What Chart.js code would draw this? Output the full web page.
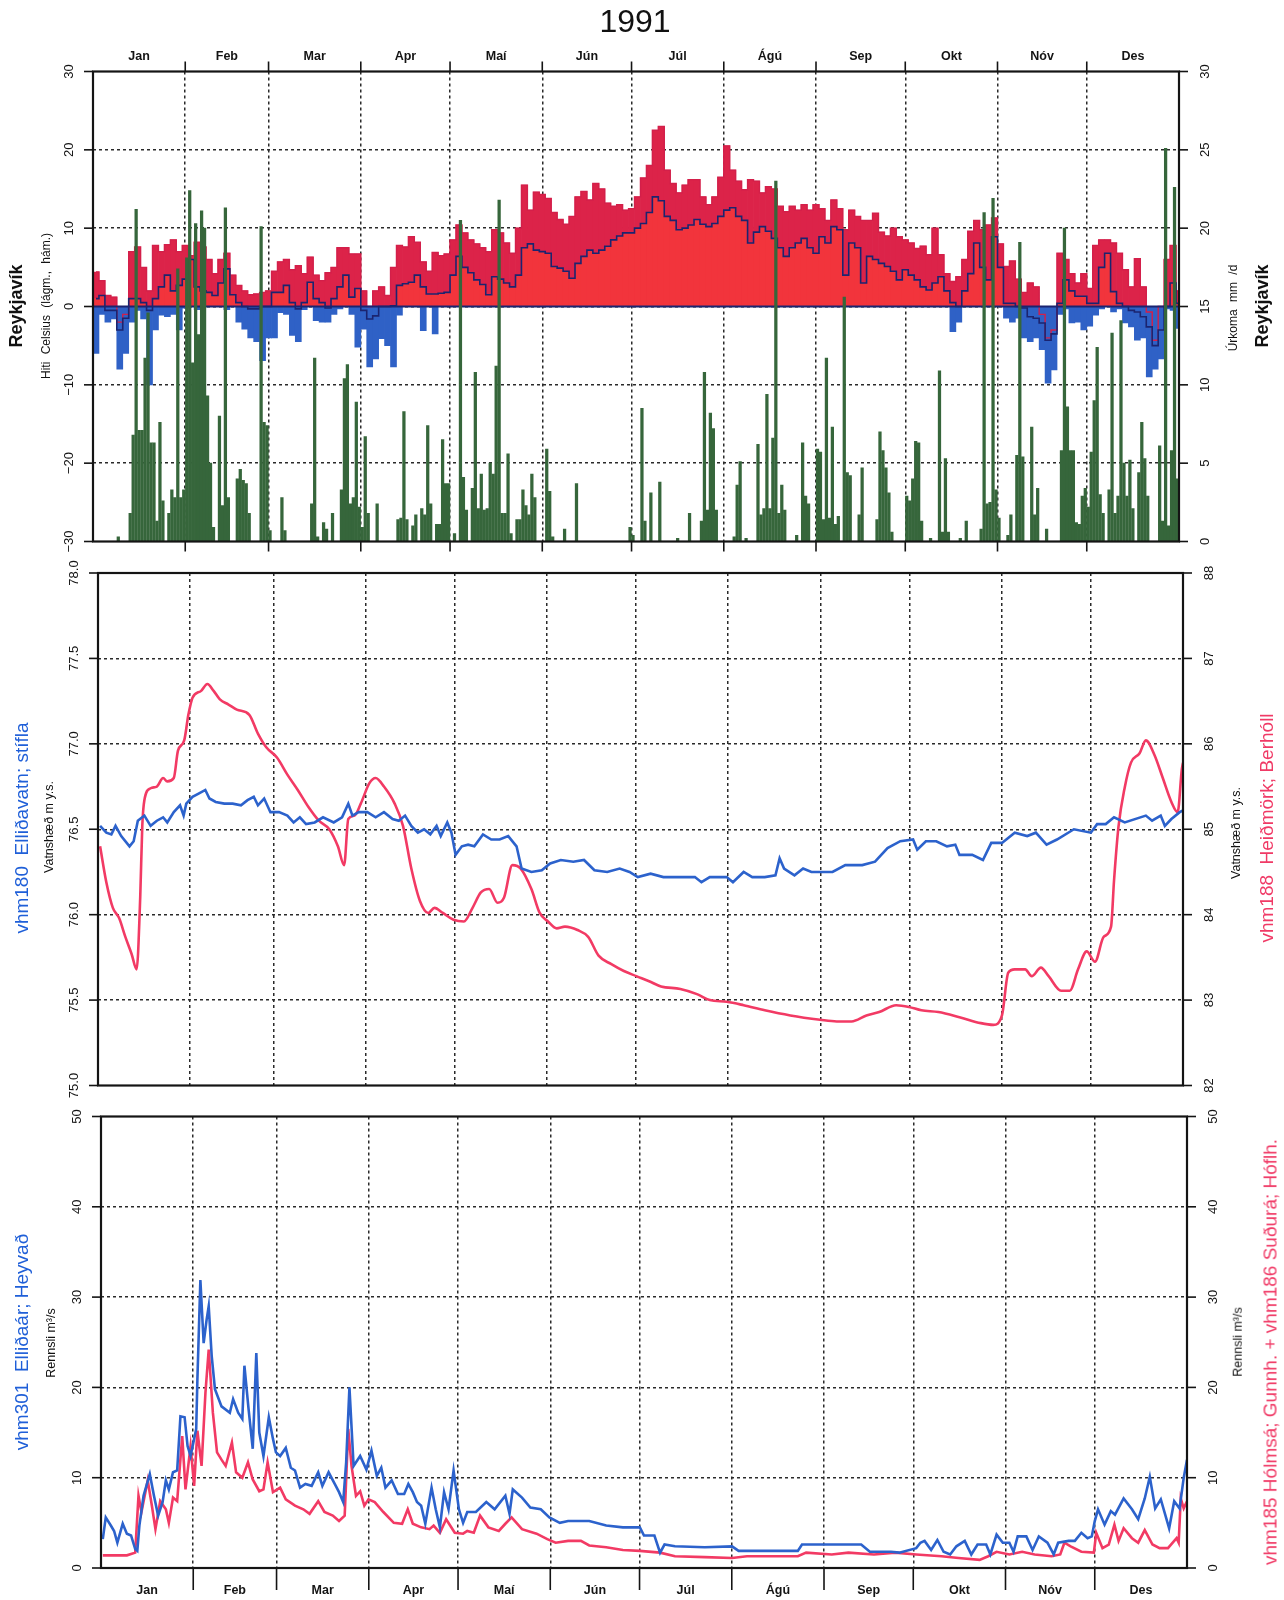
<!DOCTYPE html>
<html>
<head>
<meta charset="utf-8">
<title>1991 – Reykjavík</title>
<script src="https://cdn.jsdelivr.net/npm/chart.js@4.4.1/dist/chart.umd.min.js"></script>
<style>
  html, body { margin: 0; padding: 0; background: #fff; }
  #page { position: relative; width: 1284px; height: 1600px; overflow: hidden;
          font-family: "Liberation Sans", Arial, Helvetica, sans-serif; color: #111; }
  #page canvas { position: absolute; left: 0; top: 0; }
  .t { position: absolute; white-space: nowrap; transform: translate(-50%, -50%); line-height: 1; }
  .v { transform: translate(-50%, -50%) rotate(-90deg); }
</style>
</head>
<body>
<div id="page">
  <canvas id="cTemp" width="1284" height="1600"></canvas>
  <canvas id="cLevel" width="1284" height="1600"></canvas>
  <canvas id="cFlow" width="1284" height="1600"></canvas>

  <div class="t" style="left:635px;top:21px;font-size:32px;">1991</div>

  <div class="t v" style="left:16px;top:306px;font-size:18px;font-weight:bold;">Reykjavík</div>
  <div class="t v" style="left:46px;top:306px;font-size:12px;word-spacing:4px;">Hiti Celsius (lágm., hám.)</div>
  <div class="t v" style="left:1233px;top:308px;font-size:12px;word-spacing:4px;">Úrkoma mm /d</div>
  <div class="t v" style="left:1262px;top:306px;font-size:18px;font-weight:bold;">Reykjavík</div>

  <div class="t v" style="left:21px;top:828px;font-size:19px;color:#1f5fd8;">vhm180&nbsp; Elliðavatn; stífla</div>
  <div class="t v" style="left:49px;top:827px;font-size:12.5px;">Vatnshæð m y.s.</div>
  <div class="t v" style="left:1236px;top:833px;font-size:12.5px;">Vatnshæð m y.s.</div>
  <div class="t v" style="left:1266px;top:828px;font-size:19px;color:#f03a66;">vhm188&nbsp; Heiðmörk; Berhóll</div>

  <div class="t v" style="left:21px;top:1342px;font-size:19px;color:#1f5fd8;">vhm301&nbsp; Elliðaár; Heyvað</div>
  <div class="t v" style="left:51px;top:1343px;font-size:12.5px;">Rennsli m³/s</div>
  <div class="t v" style="left:1238px;top:1342px;font-size:12.5px;">Rennsli m³/s</div>
  <div class="t v" style="left:1270px;top:1352px;font-size:19px;color:#f03a66;">vhm185 Hólmsá; Gunnh. + vhm186 Suðurá; Hóflh.</div>
</div>

<script>
// ---- calendar ----
const monthNames = ['Jan', 'Feb', 'Mar', 'Apr', 'Maí', 'Jún', 'Júl', 'Ágú', 'Sep', 'Okt', 'Nóv', 'Des'];
const monthStarts = [0, 31, 59, 90, 120, 151, 181, 212, 243, 273, 304, 334, 365];

// ---- tick values ----
const tempTicks = [-30, -20, -10, 0, 10, 20, 30];
const precipTicks = [0, 5, 10, 15, 20, 25, 30];
const levelTicksLeft = [75, 75.5, 76, 76.5, 77, 77.5, 78];
const levelTicksRight = [82, 83, 84, 85, 86, 87, 88];
const flowTicks = [0, 10, 20, 30, 40, 50];

// ---- Reykjavík temperature, two-day bins from 1 Jan (°C) ----
const tempMax = [
  4.4, 3.3, 1.4, 1.2, -2, -1, 7, 7.6, 5, 2,
  7.8, 7, 7.9, 8.5, 7, 7.8, 6.5, 8.2, 7.6, 6,
  4.2, 6, 6.8, 4, 2.7, 2, 1.5, 1.6, 1.8, 2,
  4.5, 5.7, 6, 4.7, 5.2, 4.2, 6.3, 4, 3.3, 4.3,
  5, 7.5, 7.5, 6.7, 6.7, 2, 0, 2, 2.5, 1.4,
  5, 7.8, 7.6, 8.9, 8.2, 5.7, 4.5, 6.9, 6.5, 6.7,
  8.5, 10.4, 9.4, 8.5, 8, 7.5, 7, 9.8, 9.4, 8.1,
  6.8, 10, 15.5, 12.3, 14.6, 14.3, 13.8, 12, 11.1, 10.5,
  11.5, 14, 14.7, 13.6, 15.7, 15, 13.2, 12.8, 13, 12.3,
  12.5, 14, 16.4, 18, 22.5, 23, 17.4, 15.7, 14.5, 15.5,
  16.2, 16.2, 14, 13, 14, 16.5, 20.5, 17.4, 16, 14.9,
  16.2, 16, 14.5, 15.3, 15, 12.8, 12.1, 12.8, 12.3, 13,
  12.3, 13, 12.5, 11, 13.6, 12.5, 9.8, 12.3, 11.5, 11,
  11, 11.9, 9.5, 9, 10, 8.9, 8.5, 8.1, 7.4, 7.7,
  6.6, 10, 6.6, 4.2, 3.2, 3.8, 6, 9.6, 11, 9.8,
  10.4, 11.3, 8, 5.1, 5.8, 3.5, 1.8, 3, 2.5, -1,
  -4, -3, 6.8, 6, 4.2, 3, 4.2, 2.3, 7.8, 8.5,
  8.5, 8.1, 6.8, 4.7, 2.5, 6.1, 2.5, -0.7, -4.3, 0,
  6, 7.8, 2
];
const tempMin = [
  -6, -1, -2, -1.6, -8, -6, -2, -0.5, -1.6, -10,
  -3, -1.1, -1.3, -1, -3, -0.2, 0.3, -0.4, 0.5, 0.5,
  0.5, 0.5, -0.4, 0.3, -2, -2.9, -4, -4.5, -6.9, -4,
  -4, -0.8, -1, -3.7, -4.5, -0.4, 0.2, -1.8, -2, -2,
  -1, -0.3, 0.3, -1, -5.2, -2.9, -7.7, -6.7, -4.1, -5,
  -7.7, -1.1, 0.3, 0.5, 0.3, -3.1, 0.2, -3.5, 0.3, 0.5,
  1, 2.9, 1.5, 0.8, 0.5, 0.3, 0.3, 0.5, 0.4, 0.3,
  0.3, 0.8, 4, 4.5, 3.8, 3.5, 3.2, 1.6, 1.4, 1,
  0.5, 2, 3, 3.7, 3.3, 3.7, 4.2, 5, 5.5, 6,
  6, 6.5, 7, 8.5, 9, 9.5, 8, 7.5, 6.3, 6.5,
  7, 7.5, 7, 6.7, 7, 8, 8.5, 9, 8, 7.5,
  4.6, 6, 6.7, 6, 5.2, 4, 3, 4, 4.6, 5.2,
  4, 3.3, 5.4, 4.6, 6.7, 6.3, 1, 4.6, 4, 0.5,
  3, 2.5, 2, 1.6, 1, 0.5, 1.2, 0.8, 0.4, 0.3,
  0.3, 0.3, 0.5, 0.3, -3.2, -2, 0.5, 1, 4.5, 1.5,
  0.5, 5, 1, -1.5, -2, -1.5, -4, -4.5, -4, -5.5,
  -9.8, -8.1, -1, -0.3, -2.1, -2, -3, -2.5, -1.1, -0.3,
  0.3, -0.7, -0.3, -2.1, -2.6, -4.3, -4, -9, -8, -6.7,
  -0.3, -0.5, -2.8
];
const tempMean = [
  1, 1.4, -0.5, -0.5, -3, -1.5, 1, 1, 0.5, -0.5,
  1, 2.5, 4, 2, 2.7, 3.5, 6, 2.5, 2, 1.8,
  1.4, 3, 4.8, 1.5, 0.5, 0, -0.3, -0.3, 0, 0,
  1.8, 1.8, 2.7, 0.5, -0.3, 0.5, 3.1, 1, 0.5, -0.2,
  1, 2.5, 4, 1.2, 2.3, -0.5, -1.6, -1.2, 0, 0,
  0.1, 2.7, 2.9, 3.1, 4, 2.5, 1.6, 1.6, 1.7, 1.8,
  4, 6.4, 5, 4.3, 3.4, 2.8, 1.5, 3.8, 3.5, 3,
  2.5, 4, 7.5, 8, 7.2, 7, 6.8, 5.1, 4.9, 4.5,
  3.6, 5.5, 6.4, 7.2, 6.8, 7.2, 7.7, 8.5, 9, 9.4,
  9.4, 10, 10.6, 12, 14, 13.5, 11.5, 11, 9.8, 10,
  10.4, 11.1, 10.5, 10.2, 10.6, 11.5, 12.3, 12.6, 11.5, 11,
  8.1, 9.5, 10.2, 9.6, 8.7, 7.5, 6.4, 7.5, 8.1, 8.7,
  7.5, 6.8, 8.9, 8.1, 10.2, 9.8, 4, 8.1, 7.5, 3,
  6.4, 6, 5.5, 5.1, 4.5, 3.4, 4.7, 4, 3.4, 2.5,
  2.1, 3, 3.8, 2, 0.5, 0, 2, 4.2, 8.1, 5,
  3.4, 8.9, 5, 0.4, 0.4, 0, -0.2, -1.3, -1.5, -2.1,
  -4.3, -3.5, 0.4, 3.4, 2, 1.3, 1.3, 0.4, 0.4, 5,
  6.8, 1.9, 0.4, 0, -0.5, -0.7, -1.3, -2.6, -5, -3,
  0, 3, 0.4
];

// ---- Reykjavík daily precipitation: [day of year, mm] ----
const precip = [
  [8,0.3],[12,1.8],[13,6.8],[14,21.2],[15,7.1],[16,7.1],[17,11.7],[18,14.6],[19,6.3],[20,6.3],
  [21,1.3],[22,7.6],[23,2.6],[25,1.8],[26,3.3],[27,2.8],[28,17.4],[29,2.8],[30,3.3],[31,18.1],
  [32,22.4],[33,11.4],[34,20.3],[35,13.2],[36,21.1],[37,20],[38,9.3],[39,5],[40,0.9],[42,8],
  [43,2.3],[44,21.3],[45,2.8],[48,4],[49,4.6],[50,3.9],[51,3.7],[52,1.8],[56,20.1],[57,7.6],
  [58,7.4],[59,0.7],[63,2.8],[64,0.7],[73,2.4],[74,11.7],[75,0.3],[77,1.2],[78,0.8],[80,1.8],
  [83,3.3],[84,10.4],[85,11.3],[86,2.4],[87,2.8],[88,8.9],[89,2.2],[90,0.9],[91,6.7],[92,1.8],
  [95,2.4],[102,1.4],[103,1.5],[104,8.3],[105,1.4],[107,1],[108,1.7],[110,2.1],[111,1.7],[112,7.4],
  [113,2.4],[115,1.1],[116,1.1],[117,6.5],[118,3.7],[119,3.7],[121,0.5],[123,20.5],[124,4.1],[125,2],
  [127,3.4],[128,10.8],[129,2.1],[130,4.3],[131,2],[132,2.1],[133,5],[134,4.3],[135,11.2],[136,21.8],
  [137,1.8],[138,1.8],[139,5.6],[140,0.5],[142,1.4],[143,1.4],[144,3.3],[145,2.3],[146,1.7],[147,4.3],
  [148,2.8],[152,5.9],[153,3.2],[154,0.3],[158,0.8],[162,3.7],[180,0.9],[181,0.4],[184,8.5],[185,1.3],
  [187,3.1],[190,3.8],[196,0.2],[200,1.8],[204,1.3],[205,10.8],[206,2],[207,8.2],[208,7.2],[209,2],
  [215,0.3],[216,3.6],[217,5.1],[219,0.2],[223,6.2],[224,1.7],[225,2.1],[226,9.4],[227,2.1],[228,6.6],
  [229,23],[230,1.8],[231,3.6],[232,2],[236,0.4],[238,6.3],[239,2.9],[240,2.4],[243,5.9],[244,5.7],
  [245,1.4],[246,11.7],[247,1.5],[248,7.3],[249,1.1],[250,1.6],[252,15.6],[253,4.4],[254,4.2],[257,1.7],
  [258,4.7],[263,1.4],[264,7],[265,5.8],[266,4.7],[267,3.1],[268,0.6],[273,2.9],[274,2.6],[275,4],
  [276,6.4],[277,6.3],[278,1.3],[281,0.2],[284,10.9],[285,0.6],[286,5.3],[287,0.6],[291,0.2],[293,1.3],
  [298,0.8],[299,21],[300,2.4],[301,2.5],[302,21.9],[303,3.3],[304,1.5],[307,0.4],[308,1.7],[310,5.5],
  [311,19.1],[312,5.4],[315,7.3],[316,1.7],[317,3.4],[320,0.8],[325,5.8],[326,20],[327,8.6],[328,5.8],
  [329,5.8],[330,1.2],[331,1.1],[332,2.9],[333,3.4],[334,2.2],[335,5.7],[336,9],[337,12.4],[338,3],
  [339,1.8],[341,3.3],[342,13.3],[343,1.8],[344,2.9],[345,14.1],[346,5],[347,2.9],[348,5.2],[349,2.1],
  [351,4.4],[352,7.6],[353,5.3],[354,2.9],[358,6.1],[359,1.3],[360,25.1],[361,1],[362,5.8],[363,22.6],
  [364,4]
];

// ---- vhm180 Elliðavatn water level, m a.s.l.: [day, level] ----
const level180 = [
  [0.7,76.52],[2.8,76.48],[4.5,76.47],[5.9,76.52],[7.8,76.46],[10.6,76.40],[12,76.43],[13.4,76.55],
  [15.6,76.58],[17.7,76.52],[19.8,76.55],[21.9,76.57],[23.3,76.54],[25.5,76.60],[27.6,76.64],[28.8,76.58],
  [29.7,76.65],[31.8,76.69],[34,76.71],[36.1,76.73],[37.5,76.68],[39.6,76.66],[42.5,76.65],[45.3,76.65],
  [48.1,76.64],[50.3,76.67],[52.4,76.69],[53.8,76.64],[55.9,76.68],[58,76.60],[60.9,76.60],[63.7,76.58],
  [65.8,76.54],[67.9,76.57],[70,76.53],[72.9,76.54],[75.7,76.57],[79.3,76.54],[82.1,76.57],[84.2,76.65],
  [85.6,76.58],[87.7,76.60],[90.6,76.60],[93.4,76.57],[96.2,76.60],[99.1,76.56],[101.2,76.55],[103.3,76.58],
  [105.4,76.52],[107.6,76.48],[109.7,76.50],[111.8,76.47],[113.9,76.52],[115.3,76.46],[117.5,76.54],[118.9,76.48],
  [120.3,76.35],[122.4,76.40],[124.5,76.41],[126.6,76.40],[129.5,76.47],[132.3,76.44],[135.1,76.44],[138,76.46],
  [140.8,76.40],[142.5,76.27],[145.8,76.25],[149.3,76.26],[152.1,76.30],[155.7,76.32],[159.9,76.31],[163.5,76.32],
  [167,76.26],[171.3,76.25],[175.5,76.27],[178.8,76.25],[181.6,76.22],[185.9,76.24],[190.2,76.22],[195.9,76.22],
  [200.8,76.22],[203,76.19],[205.8,76.22],[211.5,76.22],[213.6,76.19],[217.2,76.25],[220.1,76.22],[224.3,76.22],
  [227.9,76.23],[229.3,76.33],[230.8,76.27],[234.3,76.23],[237.2,76.27],[240,76.25],[242.9,76.25],[247.1,76.25],
  [251.4,76.29],[257.1,76.29],[261.4,76.31],[265.6,76.39],[269.9,76.43],[274.2,76.44],[275.6,76.38],[278.5,76.43],
  [282,76.43],[285.6,76.40],[288.4,76.41],[289.8,76.35],[294.1,76.35],[297.7,76.32],[300.5,76.42],[304.1,76.42],
  [308.4,76.48],[312.6,76.46],[315.5,76.48],[319.1,76.41],[322.6,76.44],[328.3,76.50],[334,76.48],[336.1,76.53],
  [339,76.53],[341.8,76.57],[345.4,76.54],[352.5,76.58],[354.6,76.55],[357.5,76.58],[358.9,76.52],[361.1,76.56],
  [363.9,76.60],[365,76.61]
];

// ---- vhm188 Heiðmörk, Berhóll groundwater level, m a.s.l.: [day, level] ----
const level188 = [
  [0.7,84.80],[2.8,84.38],[5,84.08],[7.1,83.96],[9.2,83.74],[11.3,83.54],[13,83.36],[14.2,84.2],
  [14.9,85.04],[15.6,85.34],[17.7,85.48],[19.8,85.5],[21.9,85.6],[23.3,85.56],[25.5,85.6],[26.9,85.92],
  [29,86.04],[30.4,86.34],[31.8,86.54],[34.7,86.62],[36.8,86.7],[38.9,86.62],[41,86.52],[43.9,86.46],
  [46.7,86.4],[50.9,86.34],[53.8,86.12],[56.6,85.96],[60.2,85.84],[63.7,85.64],[67.2,85.46],[70.8,85.26],
  [74.3,85.1],[77.8,85.0],[80.7,84.8],[82.8,84.58],[84.2,85.12],[86.3,85.16],[88.4,85.3],[91.3,85.54],
  [93.4,85.6],[96.2,85.5],[99.8,85.3],[102.6,85.04],[105.4,84.54],[108.3,84.16],[111.1,84.02],[113.2,84.08],
  [116,84.02],[119.6,83.94],[123.1,83.92],[126,84.08],[128.8,84.26],[131.6,84.3],[134.4,84.14],[136.6,84.2],
  [139.4,84.58],[142.2,84.54],[145.8,84.3],[148.6,84.02],[151.4,83.92],[154.3,83.84],[157.1,83.86],[161.3,83.82],
  [164.9,83.74],[168.4,83.52],[172.7,83.42],[176.9,83.34],[181.1,83.28],[185.4,83.22],[189.4,83.16],[195.9,83.13],
  [201.5,83.07],[205.8,83.0],[211.5,82.98],[217.2,82.94],[224.3,82.88],[232.9,82.82],[242.9,82.77],[248.5,82.75],
  [253.5,82.75],[258.5,82.82],[262.8,82.86],[268.5,82.94],[272.8,82.92],[277,82.88],[282.7,82.86],[289.8,82.8],
  [297,82.73],[301.2,82.71],[304.1,82.82],[306.2,83.32],[308.4,83.36],[311.9,83.36],[314.1,83.28],[317.2,83.38],
  [319.8,83.28],[324,83.11],[326.9,83.11],[329.7,83.36],[332.6,83.57],[335.4,83.45],[338.3,83.74],[340.8,83.86],
  [341.8,84.4],[343.3,85.03],[345.4,85.49],[347.5,85.78],[350.4,85.89],[352.5,86.04],[355.4,85.87],[358.2,85.6],
  [361.1,85.32],[363.2,85.2],[364.6,85.7],[365,85.78]
];

// ---- vhm301 Elliðaár, Heyvað discharge, m³/s: [day, flow] ----
const flow301 = [
  [0.6,3.2],[1.6,5.6],[3.3,4.7],[4.4,4.1],[5.5,2.8],[7.3,4.9],[8.7,3.8],[10.1,3.6],[11.5,2.1],[12.2,1.9],
  [12.9,4.7],[14.3,8.0],[16.4,10.4],[17.8,8.0],[19.2,5.8],[20.7,7.3],[21.8,9.7],[22.8,8.7],[24.2,10.6],[25.6,10.8],
  [26.7,16.8],[28.1,16.7],[29.1,13.5],[30.1,12.4],[31.3,14.3],[32,15.4],[32.4,20.9],[33.4,31.9],[34.5,24.9],[35.5,27.5],
  [36.2,29],[37.2,23.5],[38.3,19.8],[40.5,17.9],[43.3,17.2],[44.4,18.7],[46.1,17.2],[47.5,16.5],[48.2,22.4],[49.6,17.6],
  [51,13.2],[52.2,23.8],[53.2,15],[54.6,12.4],[56.4,16.7],[57.8,14.3],[58.8,12.8],[60.2,12.4],[62.1,13.3],[63.8,11.1],
  [65.2,10.8],[66.9,8.9],[68.7,9.3],[70.8,9.1],[73,10.6],[74.4,9.1],[76.5,10.6],[78.6,9.3],[80,8.4],[81.4,7.3],
  [82.4,11.7],[83.5,20],[84.9,11.3],[87.1,12.4],[89.2,10.9],[90.9,13],[92.7,10.2],[94.2,11.1],[95.6,8.9],[97.7,9.7],
  [99.8,8.2],[101.9,8.2],[103.3,9.3],[104.8,8.4],[106.2,7.3],[107.6,6.9],[109,4.9],[111.1,8.9],[112.5,6.5],[113.9,4.5],
  [115.3,8.4],[116.8,6.5],[118.5,10.8],[120.3,6.5],[121.7,5],[123.1,6.2],[126,6.2],[129.5,7.3],[132.3,6.5],[135.9,8],
  [137.3,6],[138.4,8.7],[141.5,7.8],[144.3,6.7],[147.8,6.5],[150.7,5.6],[154.2,5],[157,5.2],[164.1,5.2],[169.8,4.7],
  [175.4,4.5],[181.1,4.5],[182.5,3.6],[186,3.6],[187.9,1.7],[189.4,2.6],[192.9,2.4],[202.9,2.3],[212.1,2.4],[214.3,1.9],
  [234.2,1.9],[235.6,2.6],[255.5,2.6],[258.4,1.8],[265.5,1.8],[268.3,1.7],[274,2.2],[275.4,2.8],[276.8,3],[279,2],
  [281.1,3.1],[283.2,1.8],[285.4,1.5],[287.5,2.4],[290.3,3],[292.5,1.5],[294.6,2.6],[297.5,2.6],[298.9,1.5],[301,3.7],
  [303.1,2.8],[305.3,2.8],[306.7,1.8],[308.1,3.5],[311,3.5],[313.1,2],[315.2,3.5],[318.1,2.8],[320.2,1.5],[321.7,2.8],
  [325.2,3],[327.3,3],[329.5,3.9],[331.6,3.3],[333,3.5],[334,5.2],[335.1,6.5],[337.3,4.8],[339.4,6.3],[340.8,5.9],
  [343.7,7.7],[346.5,6.5],[348.6,5.4],[350.8,7.7],[352.5,10.1],[354.3,6.6],[356.2,7.6],[359,4.4],[360.7,7.4],[362.5,6.6],
  [363.9,10],[365,12]
];

// ---- vhm185 Hólmsá + vhm186 Suðurá discharge, m³/s: [day, flow] ----
const flow185 = [
  [0.6,1.4],[3.9,1.4],[8.7,1.4],[11.5,1.7],[12.6,8],[13.6,6.2],[15.7,9.7],[17.1,6.9],[18.3,4.3],[19.9,7.4],
  [21.8,6.5],[22.8,5],[24.2,7.8],[25.6,7.4],[27.3,14.6],[28.4,8.7],[30.1,13.5],[31.3,9.1],[32.4,15.2],[33.8,11.3],
  [35.1,19.4],[36.2,24.2],[37.6,17.2],[39,12.8],[40.5,12],[41.9,11.3],[44,13.9],[45.4,10.6],[47.5,10],[49.4,11.7],
  [51,9.8],[53.2,8.5],[54.6,8.7],[56,11.7],[57.8,8.4],[60.2,8.9],[62.1,7.6],[65.2,6.9],[68,6.5],[70.1,6],
  [73,7.4],[75.1,6.2],[77.9,5.8],[80,5.2],[81.9,5.8],[83.1,15.4],[84.2,11.3],[85.7,8],[87.1,8.5],[88.5,6.9],
  [89.9,7.6],[92,7.3],[94.9,6.2],[98.4,5],[101.2,4.9],[103.1,6.5],[104.8,4.9],[107.6,4.5],[110.4,4.3],[111.8,4.7],
  [113.9,3.9],[116,5.4],[118.9,3.9],[121.7,3.8],[123.1,4.1],[125.3,3.9],[127.4,5.8],[130.2,4.5],[133.7,4.1],[135.9,4.9],
  [138,5.6],[141.5,4.3],[146.4,3.8],[150,3.2],[152.8,2.8],[157,3],[161.3,3],[164.1,2.5],[169.8,2.3],[175.4,2],
  [181.1,1.9],[187.9,1.7],[192.9,1.3],[202.9,1.2],[212.1,1.1],[217.1,1.3],[234.2,1.3],[237,1.7],[245.6,1.5],[251.2,1.7],
  [259.8,1.5],[266.9,1.7],[274,1.5],[282.5,1.3],[288.2,1.1],[295.3,0.9],[298.2,1.3],[301,1.8],[305.3,1.5],[309.6,1.8],
  [313.8,1.5],[319.5,1.3],[322.4,1.5],[323.8,2.8],[325.9,2.4],[329.5,1.8],[333.7,1.7],[334.5,3.9],[336.6,2.2],[338.7,2.6],
  [340.6,4.8],[342,3],[343.7,4.4],[346.5,3.3],[348.6,2.8],[350.8,4.2],[353.4,2.6],[355.8,2.2],[358.6,2.2],[361.5,3.3],
  [362.2,2.8],[362.9,7.7],[363.9,6.6],[365,7.4]
];

// ---- styling ----
const W = 1284, H = 1600;
const INK = '#141414';
const GRID = '#2a2a2a';
const TICK_FONT = '13px "Liberation Sans", Arial, Helvetica, sans-serif';
const MONTH_FONT = 'bold 12.5px "Liberation Sans", Arial, Helvetica, sans-serif';
const LINE_BLUE = '#2c62cc';
const LINE_RED = '#f23a64';

// plot areas of the three panels
const panels = {
  temp:  { left: 93,  right: 1179, top: 71.5,  bottom: 541.5 },
  level: { left: 98,  right: 1183, top: 573,   bottom: 1085.5 },
  flow:  { left: 101, right: 1187, top: 1116.5, bottom: 1568 }
};

function monthAxis() {
  return {
    type: 'linear', min: 0, max: 365, offset: false,
    afterBuildTicks: s => { s.ticks = monthStarts.slice(1, -1).map(v => ({ value: v })); },
    ticks: { display: false },
    grid: { color: GRID, lineWidth: 1.5, drawTicks: false, offset: false },
    border: { display: false, dash: [3, 3] }
  };
}
function valueAxis(position, min, max, ticks, withGrid) {
  return {
    type: 'linear', position, min, max,
    afterBuildTicks: s => { s.ticks = ticks.slice(1, -1).map(v => ({ value: v })); },
    ticks: { display: false },
    grid: { display: withGrid, color: GRID, lineWidth: 1.5, drawTicks: false },
    border: { display: false, dash: [3, 3] }
  };
}

// frame, outward tick marks, rotated tick labels and month names
function decorations(cfg) {
  return {
    id: 'decor_' + cfg.name,
    afterDatasetDraw(chart, args) {
      if (!cfg.baselineAfter) return;
      if (chart.data.datasets[args.index].label !== cfg.baselineAfter) return;
      const { ctx, chartArea: a } = chart;
      const y = chart.scales.y.getPixelForValue(0);
      ctx.save();
      ctx.strokeStyle = '#1b2470';
      ctx.lineWidth = 2.2;
      ctx.beginPath(); ctx.moveTo(a.left, y); ctx.lineTo(a.right, y); ctx.stroke();
      ctx.restore();
    },
    afterDraw(chart) {
      const { ctx, chartArea: a, scales } = chart;
      const seg = (x1, y1, x2, y2) => { ctx.beginPath(); ctx.moveTo(x1, y1); ctx.lineTo(x2, y2); ctx.stroke(); };
      const vtext = (txt, x, y) => {
        ctx.save(); ctx.translate(x, y); ctx.rotate(-Math.PI / 2); ctx.fillText(txt, 0, 0); ctx.restore();
      };
      ctx.save();
      ctx.strokeStyle = INK; ctx.fillStyle = INK;
      ctx.lineWidth = 2.2;
      ctx.strokeRect(a.left, a.top, a.right - a.left, a.bottom - a.top);
      ctx.lineWidth = 1.6;
      ctx.font = TICK_FONT; ctx.textAlign = 'center'; ctx.textBaseline = 'middle';
      cfg.left.values.forEach(v => {
        const y = scales.y.getPixelForValue(v);
        seg(a.left - 9, y, a.left, y);
        vtext(cfg.left.fmt(v), a.left - 24, y);
      });
      cfg.right.values.forEach(v => {
        const y = scales.y2.getPixelForValue(v);
        seg(a.right, y, a.right + 9, y);
        vtext(cfg.right.fmt(v), a.right + 26, y);
      });
      const xs = scales.x;
      monthStarts.slice(1, -1).forEach(d => {
        const x = xs.getPixelForValue(d);
        if (cfg.topTick) seg(x, a.top - cfg.topTick, x, a.top);
        if (cfg.bottomTick) seg(x, a.bottom, x, a.bottom + cfg.bottomTick);
      });
      if (cfg.monthLabelY != null) {
        ctx.font = MONTH_FONT;
        monthNames.forEach((m, i) => {
          const x = xs.getPixelForValue((monthStarts[i] + monthStarts[i + 1]) / 2);
          ctx.fillText(m, x, cfg.monthLabelY);
        });
      }
      ctx.restore();
    }
  };
}

function commonOptions(panel, scales) {
  return {
    responsive: false, animation: false, devicePixelRatio: 1, events: [],
    layout: { padding: { left: panel.left, right: W - panel.right, top: panel.top, bottom: H - panel.bottom } },
    plugins: { legend: { display: false }, tooltip: { enabled: false } },
    scales
  };
}

const minus = v => (v < 0 ? '\u2212' + Math.abs(v) : String(v));

// ---------- panel 1: temperature and precipitation ----------
const tempBinDays = tempMax.map((_, i) => i * 2 + 1);   // centre of each two-day bin
const binPoints = (vals, keep) => vals.map((v, i) => ({ x: tempBinDays[i], y: v })).filter(p => keep(p.y));

new Chart(document.getElementById('cTemp'), {
  type: 'bar',
  data: {
    datasets: [
      { label: 'Úrkoma', type: 'bar', yAxisID: 'y2', order: 1, grouped: false,
        data: precip.map(([d, mm]) => ({ x: d + 0.5, y: mm })),
        backgroundColor: '#36663b', barThickness: 2.6, borderWidth: 0 },
      { label: 'Meðalhiti', type: 'line', yAxisID: 'y', order: 2,
        data: tempMean.map((v, i) => ({ x: tempBinDays[i], y: v })),
        stepped: 'middle', borderColor: '#1b2470', borderWidth: 1.6, pointRadius: 0, fill: false },
      { label: 'Hámark lína', type: 'line', yAxisID: 'y', order: 3,
        data: tempMax.map((v, i) => ({ x: tempBinDays[i], y: v })),
        stepped: 'middle', borderColor: '#d31f4a', borderWidth: 1.4, pointRadius: 0, fill: false },
      { label: 'Meðalhiti ofan frostmarks', type: 'bar', yAxisID: 'y', order: 4, grouped: false,
        data: binPoints(tempMean, v => v > 0),
        backgroundColor: '#f2343c', barThickness: 6, borderWidth: 0 },
      { label: 'Hámark', type: 'bar', yAxisID: 'y', order: 5, grouped: false,
        data: binPoints(tempMax, v => v > 0),
        backgroundColor: '#dc2349', barThickness: 6, borderWidth: 0 },
      { label: 'Lágmark', type: 'bar', yAxisID: 'y', order: 6, grouped: false,
        data: binPoints(tempMin, v => v < 0),
        backgroundColor: '#2f61c6', barThickness: 6, borderWidth: 0 }
    ]
  },
  options: commonOptions(panels.temp, {
    x: monthAxis(),
    y: valueAxis('left', -30, 30, tempTicks, true),
    y2: valueAxis('right', 0, 30, precipTicks, false)
  }),
  plugins: [decorations({
    name: 'temp', baselineAfter: 'Meðalhiti',
    left: { values: tempTicks, fmt: minus },
    right: { values: precipTicks, fmt: v => String(v) },
    topTick: 10, bottomTick: 10, monthLabelY: 57
  })]
});

// ---------- panel 2: water levels ----------
new Chart(document.getElementById('cLevel'), {
  type: 'line',
  data: {
    datasets: [
      { label: 'vhm180', yAxisID: 'y', data: level180.map(([d, v]) => ({ x: d, y: v })),
        borderColor: LINE_BLUE, borderWidth: 2.6, pointRadius: 0, tension: 0, fill: false },
      { label: 'vhm188', yAxisID: 'y2', data: level188.map(([d, v]) => ({ x: d, y: v })),
        borderColor: LINE_RED, borderWidth: 2.6, pointRadius: 0, cubicInterpolationMode: 'monotone', fill: false }
    ]
  },
  options: commonOptions(panels.level, {
    x: monthAxis(),
    y: valueAxis('left', 75, 78, levelTicksLeft, true),
    y2: valueAxis('right', 82, 88, levelTicksRight, false)
  }),
  plugins: [decorations({
    name: 'level',
    left: { values: levelTicksLeft, fmt: v => v.toFixed(1) },
    right: { values: levelTicksRight, fmt: v => String(v) },
    topTick: 0, bottomTick: 0, monthLabelY: null
  })]
});

// ---------- panel 3: discharge ----------
new Chart(document.getElementById('cFlow'), {
  type: 'line',
  data: {
    datasets: [
      { label: 'vhm301', yAxisID: 'y', data: flow301.map(([d, v]) => ({ x: d, y: v })),
        borderColor: LINE_BLUE, borderWidth: 2.6, pointRadius: 0, tension: 0, fill: false },
      { label: 'vhm185+186', yAxisID: 'y2', data: flow185.map(([d, v]) => ({ x: d, y: v })),
        borderColor: LINE_RED, borderWidth: 2.6, pointRadius: 0, tension: 0, fill: false }
    ]
  },
  options: commonOptions(panels.flow, {
    x: monthAxis(),
    y: valueAxis('left', 0, 50, flowTicks, true),
    y2: valueAxis('right', 0, 50, flowTicks, false)
  }),
  plugins: [decorations({
    name: 'flow',
    left: { values: flowTicks, fmt: v => String(v) },
    right: { values: flowTicks, fmt: v => String(v) },
    topTick: 0, bottomTick: 22, monthLabelY: 1591
  })]
});
</script>
</body>
</html>
